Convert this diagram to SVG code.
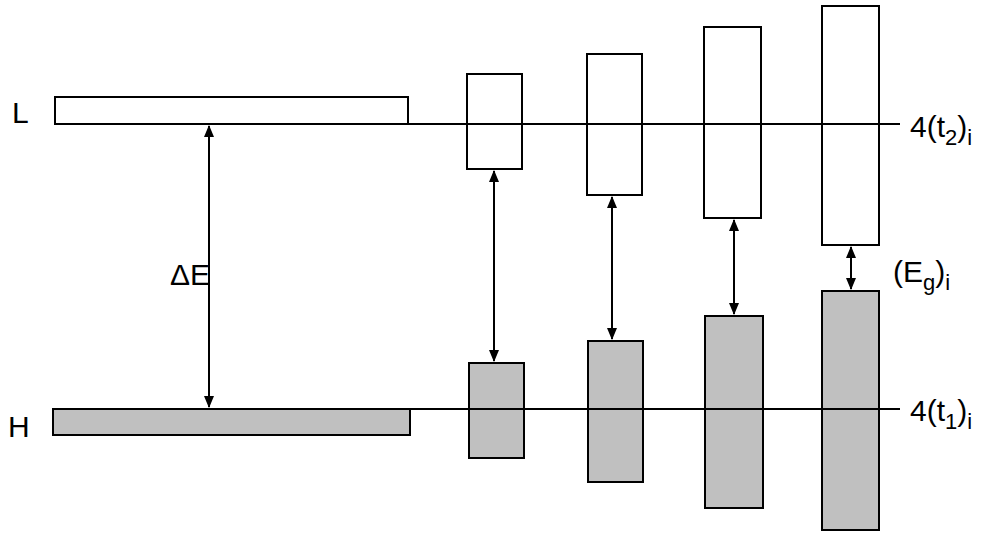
<svg xmlns="http://www.w3.org/2000/svg" width="1000" height="538" viewBox="0 0 1000 538">
<defs>
<marker id="ah" markerWidth="12" markerHeight="10" refX="11" refY="5" orient="auto-start-reverse" markerUnits="userSpaceOnUse"><path d="M0,0 L12,5 L0,10 Z" fill="#000"/></marker>
<style>
.w{fill:#fff;stroke:#000;stroke-width:2}
.g{fill:#c0c0c0;stroke:#000;stroke-width:2}
.ln{stroke:#000;stroke-width:2;fill:none}
.ar{stroke:#000;stroke-width:2;fill:none;marker-start:url(#ah);marker-end:url(#ah)}
text{font-family:"Liberation Sans",Arial,sans-serif;font-size:30px;fill:#000}
.s{font-size:22px}
</style>
</defs>
<rect width="1000" height="538" fill="#fff"/>
<g id="bars">
<rect class="w" x="55" y="97" width="353" height="27"/>
<rect class="g" x="53" y="409" width="357" height="26"/>
<rect class="w" x="467" y="74" width="55" height="95"/>
<rect class="w" x="587" y="54" width="55" height="141"/>
<rect class="w" x="704" y="27" width="57" height="191"/>
<rect class="w" x="822" y="6" width="57" height="239"/>
<rect class="g" x="469" y="363" width="55" height="95"/>
<rect class="g" x="588" y="341" width="55" height="141"/>
<rect class="g" x="705" y="316" width="58" height="192"/>
<rect class="g" x="822" y="291" width="57" height="239"/>
</g>
<g id="connectors">
<line class="ln" x1="55" y1="124" x2="900" y2="124"/>
<line class="ln" x1="53" y1="409" x2="900" y2="409"/>
<line class="ar" x1="209" y1="126" x2="209" y2="407"/>
<line class="ar" x1="494" y1="171" x2="494" y2="361"/>
<line class="ar" x1="612" y1="197" x2="612" y2="339"/>
<line class="ar" x1="734" y1="220" x2="734" y2="314"/>
<line class="ar" x1="851" y1="247" x2="851" y2="289"/>
</g>
<g id="labels">
<text x="12" y="123">L</text>
<text x="8" y="437">H</text>
<text x="170" y="285">ΔE</text>
<text x="910" y="137">4(t<tspan class="s" dy="8">2</tspan><tspan dy="-8">)</tspan><tspan class="s" dy="8">i</tspan></text>
<text x="893" y="282">(E<tspan class="s" dy="8">g</tspan><tspan dy="-8">)</tspan><tspan class="s" dy="8">i</tspan></text>
<text x="910" y="421">4(t<tspan class="s" dy="8">1</tspan><tspan dy="-8">)</tspan><tspan class="s" dy="8">i</tspan></text>
</g>
</svg>
